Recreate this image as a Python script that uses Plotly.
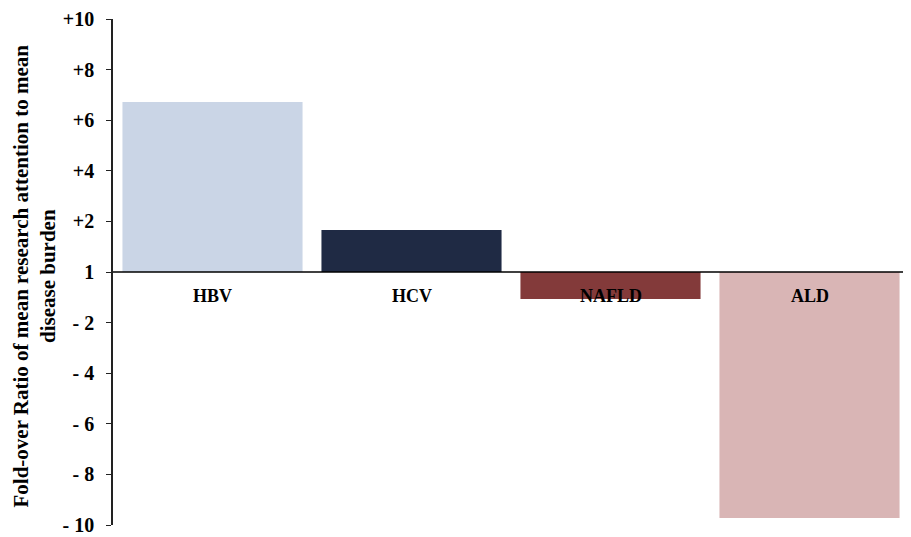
import plotly.graph_objects as go

categories = ["HBV", "HCV", "NAFLD", "ALD"]
values = [6.72, 1.66, -1.07, -9.72]
colors = ["#cad5e6", "#1f2a44", "#833a3a", "#d9b5b5"]
tick_vals = [-10, -8, -6, -4, -2, 0, 2, 4, 6, 8, 10]
tick_text = ["- 10", "- 8", "- 6", "- 4", "- 2", "1", "+2", "+4", "+6", "+8", "+10"]
label_y = -0.95

FONT = "Liberation Serif, Times New Roman, serif"

W, H = 903, 529
L, R, T, B = 105, 2, 11, 12

fig = go.Figure()
fig.add_trace(go.Bar(x=categories, y=values, marker=dict(color=colors, line=dict(width=0)),
                     width=0.905, hoverinfo="skip"))

for c in categories:
    fig.add_annotation(x=c, y=label_y, xref="x", yref="y", text="<b>%s</b>" % c,
                       showarrow=False, font=dict(family=FONT, size=18, color="black"))

fig.add_shape(type="line", xref="paper", yref="y", x0=0, x1=1, y0=0, y1=0,
              line=dict(color="black", width=1.5), layer="above")

pw = W - L - R
ph = H - T - B
fig.add_annotation(x=(26 - L) / pw, y=(H - B - 268.5) / ph, xref="paper", yref="paper", textangle=-90,
                   text="<b>Fold-over Ratio of mean research attention to mean<br>disease burden</b>",
                   showarrow=False, xanchor="center", yanchor="middle",
                   font=dict(family=FONT, size=21, color="black"))

fig.update_layout(
    width=W, height=H,
    margin=dict(l=L, r=R, t=T, b=B),
    paper_bgcolor="white", plot_bgcolor="white",
    showlegend=False,
    font=dict(family=FONT, color="black"),
    xaxis=dict(showticklabels=False, showgrid=False, zeroline=False, showline=False,
               ticks="", range=[-0.5, 3.5], automargin=False),
    yaxis=dict(range=[-10, 10], tickvals=tick_vals, ticktext=["<b>%s</b>" % t for t in tick_text],
               tickfont=dict(family=FONT, size=20, color="black"), automargin=False,
               ticklabelstandoff=8, ticklabeloverflow="allow",
               showgrid=False, zeroline=False, showline=True, linecolor="#222", linewidth=1.5,
               ticks="outside", ticklen=5, tickcolor="#222", tickwidth=1.2),
)

fig.write_html("out.html")
